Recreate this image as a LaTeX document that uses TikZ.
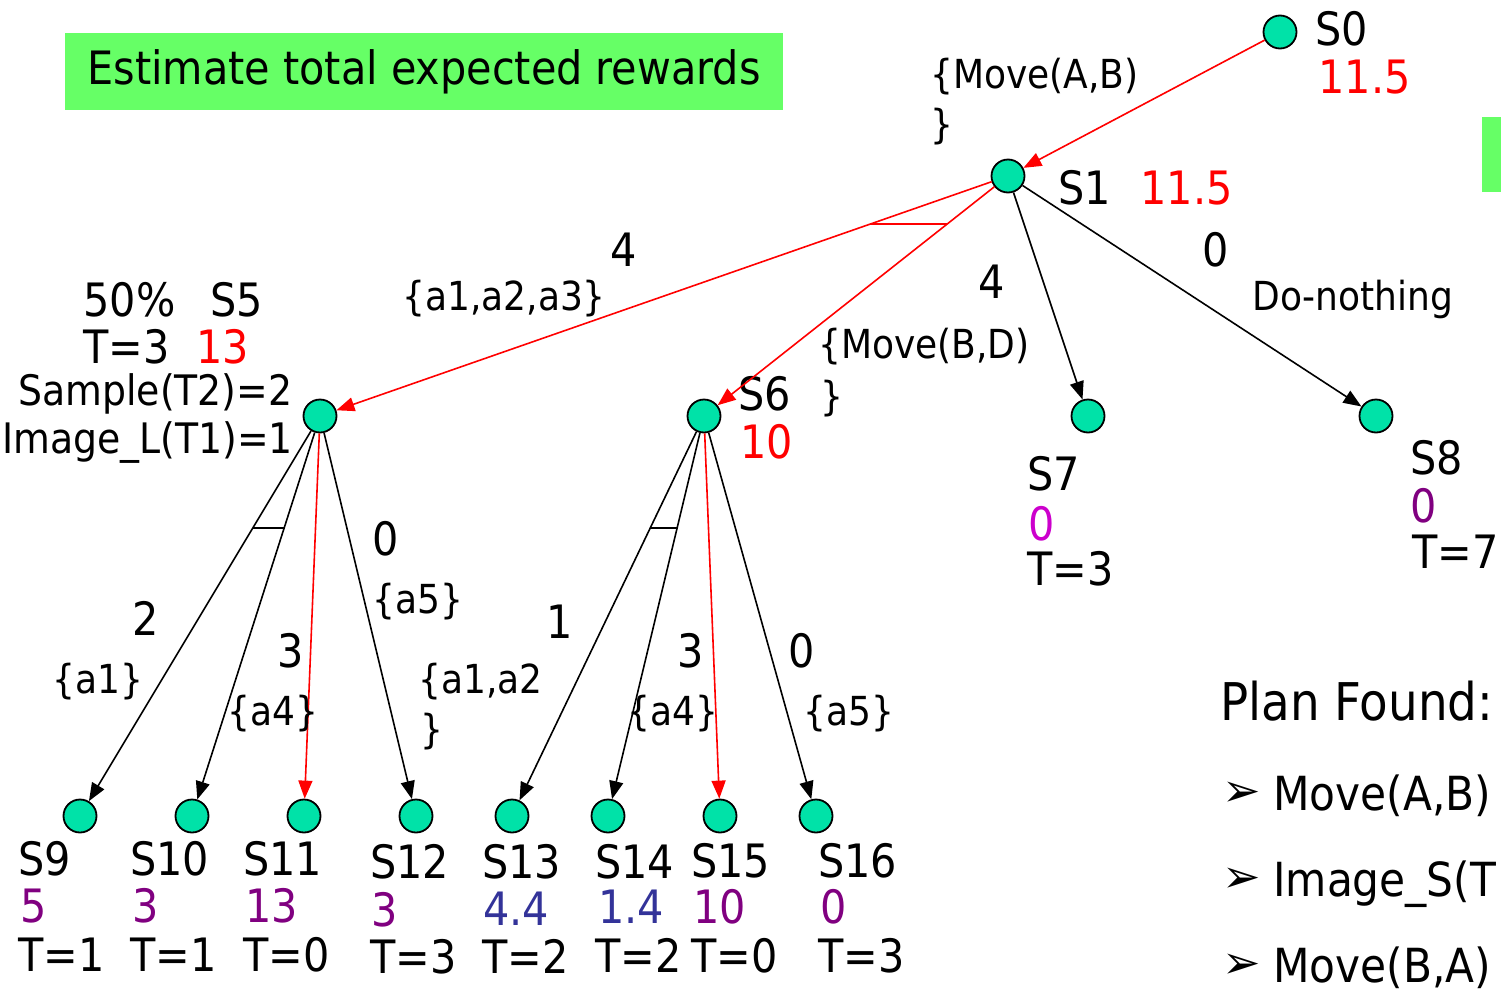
\documentclass[tikz,border=0pt]{standalone}
\usepackage{fontspec}
\setmainfont{DejaVu Sans Condensed}
\newfontfamily\symfont{DejaVu Sans}
\usepackage{tikz}
\usetikzlibrary{arrows.meta, positioning, calc}
\definecolor{stgreen}{RGB}{0,226,168}
\definecolor{boxgreen}{RGB}{102,255,102}
\definecolor{valpurple}{RGB}{128,0,128}
\definecolor{valmagenta}{RGB}{204,0,204}
\definecolor{valblue}{RGB}{51,51,153}
\newcommand{\bigf}{\fontsize{23}{27}\selectfont}
\newcommand{\midf}{\fontsize{21}{25}\selectfont}
\newcommand{\smallf}{\fontsize{20}{24}\selectfont}
\newcommand{\bulf}{\symfont\fontsize{23}{27}\selectfont}

\begin{document}
\begin{tikzpicture}[x=0.5pt, y=-0.5pt,
  snode/.style={circle, draw=black, line width=0.9pt, fill=stgreen,
                minimum size=16.5pt, inner sep=0pt},
  lab/.style={anchor=base west, inner sep=0pt, font=\bigf},
  elab/.style={anchor=base west, inner sep=0pt, font=\smallf},
  plab/.style={anchor=base west, inner sep=0pt, font=\fontsize{23.5}{28}\selectfont},
  arr/.style={-{Triangle[length=9pt,width=7pt]}, line width=0.8pt},
  redarr/.style={arr, draw=red, fill=red},
  andmark/.style={line width=0.9pt}
]
\useasboundingbox (0,0) rectangle (1501,991);

% Title
\node[fill=boxgreen, minimum width=359pt, minimum height=38.5pt, inner sep=0pt,
      font=\bigf] (title) at (424,71.5) {Estimate total expected rewards};
\fill[boxgreen] (1482,117) rectangle (1501,192);

% Top states
\node[snode] (s0) at (1280,32) {};
\node[snode] (s1) at (1008,176) {};

% Middle row
\node[snode] (s5) at (320,416) {};
\node[snode] (s6) at (704,416) {};
\node[snode] (s7) at (1088,416) {};
\node[snode] (s8) at (1376,416) {};

% Leaves
\node[snode] (s9) at (80,816) {};
\node[snode] (s10) at (192,816) {};
\node[snode] (s11) at (304,816) {};
\node[snode] (s12) at (416,816) {};
\node[snode] (s13) at (512,816) {};
\node[snode] (s14) at (608,816) {};
\node[snode] (s15) at (720,816) {};
\node[snode] (s16) at (816,816) {};

% State labels
\node[lab] (s0n) at (1315,45) {S0};
\node[lab, red] (s0v) at (1318,93) {11.5};
\node[lab] (s1n) at (1058,204) {S1};
\node[lab, red] (s1v) at (1140,204) {11.5};
\node[lab] (s5p) at (83,316) {50\%};
\node[lab] (s5n) at (210,316) {S5};
\node[lab] (s5t) at (83,363) {T=3};
\node[lab, red] (s5v) at (196,363) {13};
\node[lab, font=\midf] (s5a) at (18,405) {Sample(T2)=2};
\node[lab, font=\midf] (s5b) at (2,453) {Image\_L(T1)=1};
\node[lab] (s6n) at (738,410) {S6};
\node[lab, red] (s6v) at (740,458) {10};
\node[lab] (s7n) at (1027,490) {S7};
\node[lab, valmagenta] (s7v) at (1028,540) {0};
\node[lab] (s7t) at (1027,585) {T=3};
\node[lab] (s8n) at (1410,474) {S8};
\node[lab, valpurple] (s8v) at (1410,522) {0};
\node[lab] (s8t) at (1412,568) {T=7};

\node[lab] (s9n) at (18,875) {S9};
\node[lab, valpurple] (s9v) at (20,922) {5};
\node[lab] (s9t) at (18,971) {T=1};
\node[lab] (s10n) at (130,875) {S10};
\node[lab, valpurple] (s10v) at (132,922) {3};
\node[lab] (s10t) at (130,971) {T=1};
\node[lab] (s11n) at (243,875) {S11};
\node[lab, valpurple] (s11v) at (245,922) {13};
\node[lab] (s11t) at (243,971) {T=0};
\node[lab] (s12n) at (370,878) {S12};
\node[lab, valpurple] (s12v) at (371,926) {3};
\node[lab] (s12t) at (370,973) {T=3};
\node[lab] (s13n) at (482,878) {S13};
\node[lab, valblue] (s13v) at (483,925) {4.4};
\node[lab] (s13t) at (482,973) {T=2};
\node[lab] (s14n) at (595,878) {S14};
\node[lab, valblue] (s14v) at (598,923) {1.4};
\node[lab] (s14t) at (595,972) {T=2};
\node[lab] (s15n) at (691,877) {S15};
\node[lab, valpurple] (s15v) at (693,923) {10};
\node[lab] (s15t) at (691,972) {T=0};
\node[lab] (s16n) at (818,877) {S16};
\node[lab, valpurple] (s16v) at (820,923) {0};
\node[lab] (s16t) at (818,972) {T=3};

% Edges
\draw[redarr] (s0) -- (s1);
\draw[redarr] (s1) -- (s5);
\draw[redarr] (s1) -- (s6);
\draw[arr] (s1) -- (s7);
\draw[arr] (s1) -- (s8);
\draw[arr] (s5) -- (s9);
\draw[arr] (s5) -- (s10);
\draw[redarr] (s5) -- (s11);
\draw[arr] (s5) -- (s12);
\draw[arr] (s6) -- (s13);
\draw[arr] (s6) -- (s14);
\draw[redarr] (s6) -- (s15);
\draw[arr] (s6) -- (s16);

% And-marks
\draw[andmark, red] ($(s1)!0.2!(s5)$) -- ($(s1)!0.2!(s6)$);
\draw[andmark] ($(s5)!0.28!(s9)$) -- ($(s5)!0.28!(s10)$);
\draw[andmark] ($(s6)!0.28!(s13)$) -- ($(s6)!0.28!(s14)$);

% Edge labels
\node[elab] (eab) at (930,88) {\{Move(A,B)};
\node[elab] (eabc) at (930,138) {\}};
\node[lab] (w15) at (610,266) {4};
\node[elab] (e15) at (402,310) {\{a1,a2,a3\}};
\node[lab] (w16) at (978,298) {4};
\node[elab] (ebd) at (818,358) {\{Move(B,D)};
\node[elab] (ebdc) at (820,410) {\}};
\node[lab] (w18) at (1202,266) {0};
\node[elab] (e18) at (1252,310) {Do-nothing};
\node[lab] (w59) at (132,635) {2};
\node[elab] (e59) at (52,693) {\{a1\}};
\node[lab] (w511) at (277,667) {3};
\node[elab] (e511) at (227,725) {\{a4\}};
\node[lab] (w512) at (372,555) {0};
\node[elab] (e512) at (372,613) {\{a5\}};
\node[elab] (e613) at (418,693) {\{a1,a2};
\node[elab] (e613c) at (420,743) {\}};
\node[lab] (w613) at (546,638) {1};
\node[lab] (w615) at (677,667) {3};
\node[elab] (e615) at (627,725) {\{a4\}};
\node[lab] (w616) at (788,667) {0};
\node[elab] (e616) at (803,725) {\{a5\}};

% Plan
\node[anchor=base west, inner sep=0pt, font=\fontsize{26}{30}\selectfont] (plan) at (1220,720) {Plan Found:};
\node[plab, font=\bulf] (b1) at (1222,806) {➢};
\node[plab] (p1) at (1273,810) {Move(A,B)};
\node[plab, font=\bulf] (b2) at (1222,892) {➢};
\node[plab] (p2) at (1273,896) {Image\_S(T};
\node[plab, font=\bulf] (b3) at (1222,978) {➢};
\node[plab] (p3) at (1273,982) {Move(B,A)};
\end{tikzpicture}
\end{document}
